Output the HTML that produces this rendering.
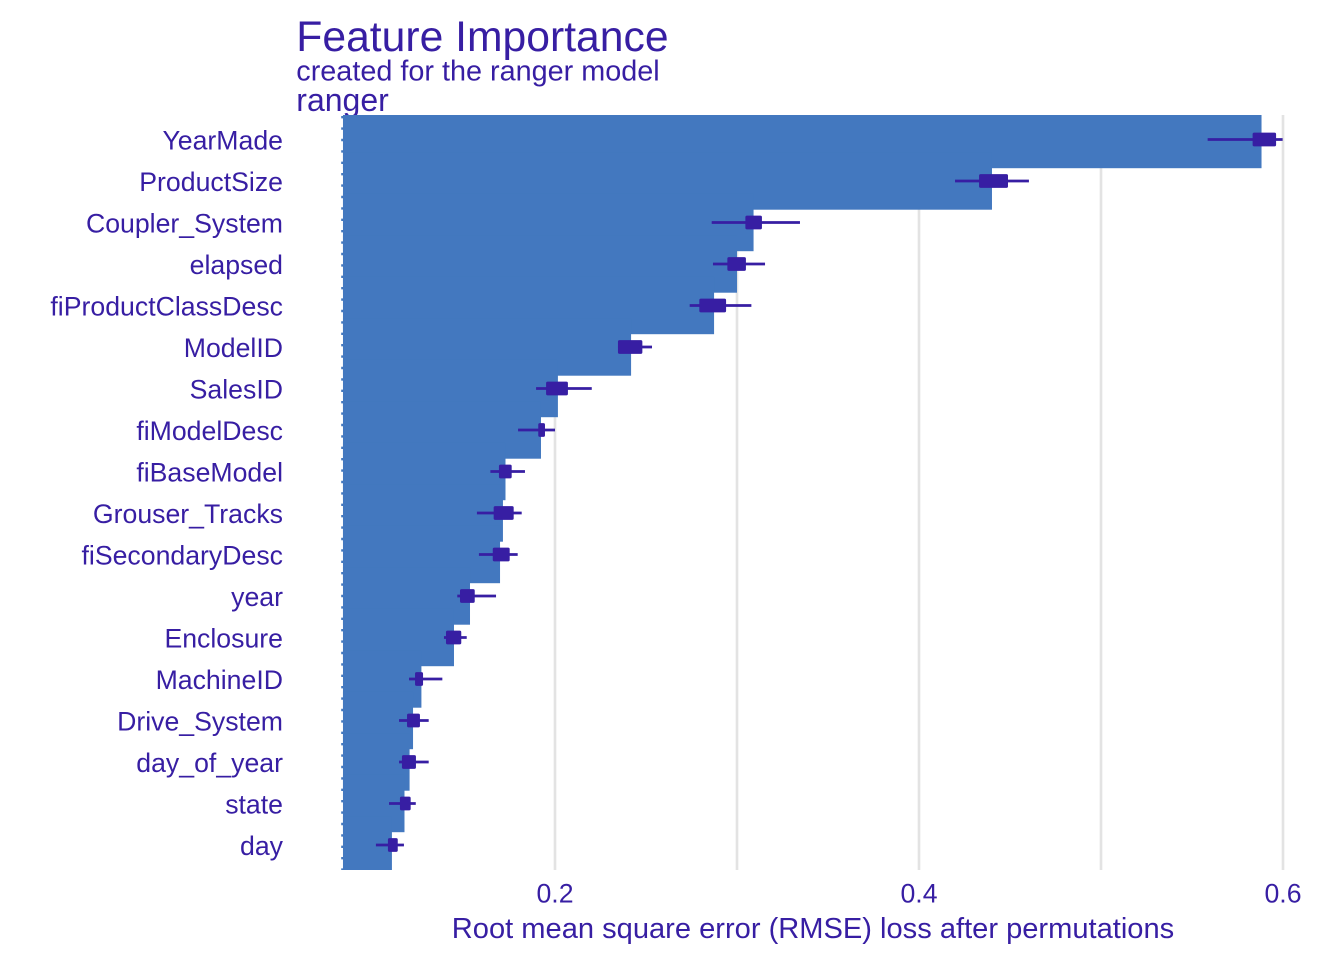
<!DOCTYPE html>
<html lang="en">
<head>
<meta charset="utf-8">
<title>Feature Importance</title>
<style>
html,body{margin:0;padding:0;background:#fff;}
svg{display:block;}
text{font-family:"Liberation Sans",Arial,sans-serif;fill:#371ea3;}
</style>
</head>
<body>
<svg id="chart" xmlns="http://www.w3.org/2000/svg" width="1344" height="960" viewBox="0 0 1344 960">
  <rect x="0" y="0" width="1344" height="960" fill="#ffffff"/>
  <defs><clipPath id="panel-clip"><rect x="0" y="115" width="1344" height="755"/></clipPath></defs>
  <text x="296.3" y="51" font-size="42.67">Feature Importance</text>
  <text x="296.3" y="80.5" font-size="28.8">created for the ranger model</text>
  <text x="296.3" y="111" font-size="32">ranger</text>
  <g id="grid"></g>
  <line x1="342.5" x2="342.5" y1="116" y2="870" stroke="#4378bf" stroke-width="2.6" stroke-dasharray="2.4 9"/>
  <g id="bars" clip-path="url(#panel-clip)"></g>
  <g id="boxes"></g>
  <g id="ylabels"></g>
  <g id="xlabels"></g>
  <text x="813" y="938" font-size="29.09" text-anchor="middle">Root mean square error (RMSE) loss after permutations</text>
</svg>
<script>
const features = ["YearMade","ProductSize","Coupler_System","elapsed","fiProductClassDesc","ModelID","SalesID","fiModelDesc","fiBaseModel","Grouser_Tracks","fiSecondaryDesc","year","Enclosure","MachineID","Drive_System","day_of_year","state","day"];
const meanLoss = [0.5882,0.4401,0.3091,0.3000,0.2874,0.2418,0.2016,0.1923,0.1728,0.1714,0.1698,0.1533,0.1445,0.1266,0.1220,0.1201,0.1173,0.1104];
const whiskerLow = [0.5586,0.4198,0.2861,0.2868,0.2740,0.2346,0.1896,0.1797,0.1645,0.1571,0.1582,0.1463,0.1390,0.1198,0.1143,0.1143,0.1088,0.1016];
const boxLow = [0.5833,0.4330,0.3046,0.2947,0.2793,0.2346,0.1951,0.1908,0.1692,0.1663,0.1658,0.1478,0.1401,0.1231,0.1187,0.1159,0.1148,0.1082];
const boxHigh = [0.5962,0.4489,0.3137,0.3049,0.2940,0.2480,0.2071,0.1945,0.1762,0.1773,0.1751,0.1559,0.1485,0.1275,0.1258,0.1236,0.1207,0.1136];
const whiskerHigh = [0.5998,0.4604,0.3346,0.3154,0.3079,0.2533,0.2202,0.2000,0.1835,0.1817,0.1795,0.1676,0.1515,0.1381,0.1306,0.1306,0.1235,0.1170];
const baselineLoss = 0.0835;
const gridValues = [0.2,0.3,0.4,0.5,0.6];
const tickValues = [0.2,0.4,0.6];
const tickLabels = ["0.2","0.4","0.6"];

const NS = "http://www.w3.org/2000/svg";
function xScale(v){ return 555 + (v - 0.2) * 1820; }
function yScale(i){ return 139.5 + i * 41.5; }
function mk(tag, attrs, parent){
  const el = document.createElementNS(NS, tag);
  for (const k in attrs) el.setAttribute(k, attrs[k]);
  parent.appendChild(el);
  return el;
}
const BAR_HALF = 28.7;
const BOX_HALF = 6.9;
const INK = "#371ea3";
const BAR = "#4378bf";

const gridG = document.getElementById("grid");
gridValues.forEach(function(v){
  const g = mk("line", {x1:xScale(v), x2:xScale(v), y1:115, y2:870, stroke:"#e3e3e3", "stroke-width":2.6}, gridG);
  
  
});

const barsG = document.getElementById("bars");
const boxesG = document.getElementById("boxes");
const yG = document.getElementById("ylabels");
features.forEach(function(name, i){
  const y = yScale(i);
  const x0 = xScale(baselineLoss);
  const bar = mk("rect", {x:x0, y:y-BAR_HALF, width:xScale(meanLoss[i])-x0, height:BAR_HALF*2, fill:BAR}, barsG);
  
  

  const wh = mk("line", {x1:xScale(whiskerLow[i]), x2:xScale(whiskerHigh[i]), y1:y, y2:y, stroke:INK, "stroke-width":2.8}, boxesG);
  
  

  const box = mk("rect", {x:xScale(boxLow[i]), y:y-BOX_HALF, width:xScale(boxHigh[i])-xScale(boxLow[i]), height:BOX_HALF*2, rx:1.6, ry:1.6, fill:INK}, boxesG);
  
  

  const lab = mk("text", {x:283, y:y+10.1, "font-size":26.67, "text-anchor":"end"}, yG);
  lab.textContent = name;
  
  
});

const xG = document.getElementById("xlabels");
tickValues.forEach(function(v, i){
  const t = mk("text", {x:xScale(v), y:902.5, "font-size":26.67, "text-anchor":"middle"}, xG);
  t.textContent = tickLabels[i];
  
  
});
</script>
</body>
</html>
